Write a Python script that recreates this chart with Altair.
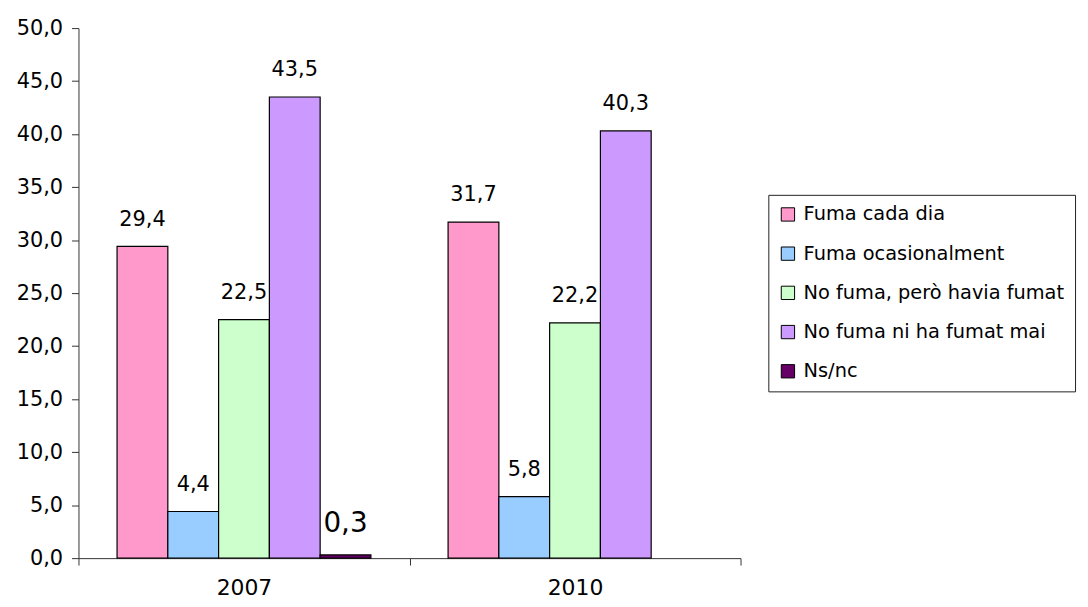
import altair as alt
import pandas as pd

years = ["2007", "2010"]
categories = ["Fuma cada dia", "Fuma ocasionalment", "No fuma, però havia fumat",
              "No fuma ni ha fumat mai", "Ns/nc"]
colors = ["#FF99CC", "#99CCFF", "#CCFFCC", "#CC99FF", "#660066"]
values_2007 = [29.4, 4.4, 22.5, 43.5, 0.3]
values_2010 = [31.7, 5.8, 22.2, 40.3, None]
label_sizes_2007 = [21, 21, 21, 21, 28]
label_sizes_2010 = [21, 21, 21, 21, 21]
y_ticks = [0, 5, 10, 15, 20, 25, 30, 35, 40, 45, 50]

rows = []
for yr, vals, sizes in [("2007", values_2007, label_sizes_2007), ("2010", values_2010, label_sizes_2010)]:
    for i, (c, v, s) in enumerate(zip(categories, vals, sizes)):
        if v is None:
            continue
        rows.append({"year": yr, "cat": c, "order": i, "value": v,
                     "label": f"{v:.1f}".replace(".", ","), "fs": s})
df = pd.DataFrame(rows)

FONT = "DejaVu Sans"

x_enc = alt.X("year:N", sort=years, title=None,
              scale=alt.Scale(paddingInner=0, paddingOuter=0),
              axis=alt.Axis(labelAngle=0, tickBand="extent", tickSize=7,
                            labelFontSize=22, labelFont=FONT, labelColor="black",
                            labelPadding=13, domainColor="#333333", tickColor="#333333"))
xo_enc = alt.XOffset("cat:N", sort=categories,
                     scale=alt.Scale(domain=categories, paddingInner=0, paddingOuter=0.76))
y_enc = alt.Y("value:Q", title=None,
              scale=alt.Scale(domain=[0, 50], nice=False),
              axis=alt.Axis(values=y_ticks, grid=False, tickSize=7,
                            labelExpr="replace(format(datum.value, '.1f'), '.', ',')",
                            labelFontSize=21, labelFont=FONT, labelColor="black",
                            labelPadding=9, domainColor="#333333", tickColor="#333333"))

text = alt.Chart(df).mark_text(baseline="bottom", dy=-17, font=FONT, color="black").encode(
    x=x_enc, xOffset=xo_enc, y=y_enc,
    text="label:N",
    size=alt.Size("fs:Q", scale=None, legend=None),
)

bars = alt.Chart(df).mark_bar(stroke="black", strokeWidth=1.2).encode(
    x=x_enc, xOffset=xo_enc, y=y_enc,
    color=alt.Color("cat:N", sort=categories,
                    scale=alt.Scale(domain=categories, range=colors),
                    legend=alt.Legend(title=None, orient="none", legendX=695, legendY=168,
                                      symbolType="square", symbolSize=180,
                                      symbolStrokeColor="black", symbolStrokeWidth=1,
                                      labelFont=FONT, labelFontSize=19.5, labelColor="black",
                                      labelOffset=6, rowPadding=18.5, padding=10,
                                      strokeColor="#222222", fillColor="white",
                                      labelLimit=400)),
)

chart = alt.layer(text, bars).properties(
    width=667, height=534,
    background="white",
    autosize=alt.AutoSizeParams(type="none"),
    padding={"left": 71, "top": 18, "right": 342, "bottom": 47},
).configure_view(strokeWidth=0)

chart.save("out.html", embed_options={"renderer": "svg", "actions": False})
